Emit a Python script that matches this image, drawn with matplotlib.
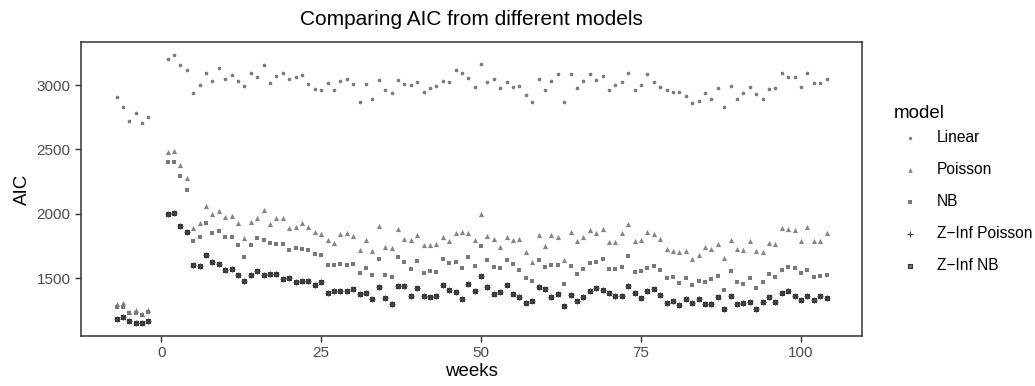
import numpy as np
import matplotlib
matplotlib.use("Agg")
import matplotlib.pyplot as plt

plt.rcParams['font.family'] = ['Liberation Sans', 'DejaVu Sans']

# weeks: an early block before week 0, then weeks 1..104
weeks = list(range(-7, -1)) + list(range(1, 105))

aic_linear = [2909, 2827, 2718, 2785, 2707, 2749,
    3204, 3231, 3158, 3117, 2940, 2998, 3096, 3033, 3130, 3049,
    3078, 3031, 2992, 3091, 3060, 3155, 3013, 3073, 3091, 3047,
    3065, 3080, 3008, 2972, 2959, 3018, 2963, 3033, 3044, 3008,
    2866, 3010, 2891, 3036, 2963, 2940, 3039, 3008, 3003, 3021,
    2946, 2979, 2992, 3033, 3021, 3119, 3093, 3057, 2982, 3163,
    3026, 3047, 2974, 3023, 2982, 2995, 2920, 2866, 3049, 2961,
    3031, 3088, 2866, 3088, 2977, 3033, 3085, 3039, 3073, 2963,
    3000, 3026, 3096, 2961, 2998, 3088, 3023, 2987, 2961, 2948,
    2948, 2917, 2858, 2873, 2938, 2891, 2974, 2832, 2995, 2889,
    2938, 2987, 2933, 2891, 2966, 2974, 3091, 3062, 3062, 2982,
    3093, 3016, 3016, 3047]

aic_poisson = [1298, 1304, 1239, 1252, 1221, 1252,
    2479, 2487, 2376, 2275, 1891, 1930, 2060, 2000, 2021, 1977,
    1982, 1925, 1814, 1933, 1967, 2026, 1918, 1969, 1969, 1891,
    1894, 1928, 1894, 1858, 1845, 1796, 1772, 1840, 1848, 1827,
    1718, 1796, 1710, 1907, 1744, 1736, 1879, 1803, 1798, 1835,
    1757, 1757, 1762, 1821, 1790, 1852, 1855, 1850, 1793, 1995,
    1824, 1803, 1744, 1821, 1796, 1801, 1700, 1627, 1835, 1752,
    1832, 1821, 1643, 1860, 1788, 1819, 1876, 1850, 1884, 1782,
    1782, 1848, 1923, 1790, 1798, 1858, 1840, 1803, 1726, 1710,
    1700, 1713, 1651, 1681, 1739, 1723, 1767, 1653, 1793, 1728,
    1715, 1788, 1713, 1702, 1770, 1767, 1889, 1879, 1873, 1790,
    1899, 1790, 1790, 1852]

aic_nb = [1273, 1278, 1231, 1226, 1213, 1239,
    2402, 2402, 2296, 2184, 1790, 1821, 1930, 1852, 1868, 1821,
    1821, 1757, 1666, 1757, 1814, 1798, 1772, 1767, 1767, 1720,
    1733, 1726, 1720, 1689, 1681, 1604, 1604, 1612, 1604, 1612,
    1542, 1580, 1526, 1651, 1526, 1511, 1666, 1627, 1573, 1635,
    1542, 1557, 1549, 1645, 1619, 1627, 1575, 1666, 1596, 1752,
    1643, 1588, 1580, 1643, 1612, 1565, 1498, 1480, 1643, 1588,
    1604, 1604, 1456, 1596, 1534, 1573, 1619, 1627, 1651, 1573,
    1573, 1588, 1674, 1549, 1557, 1580, 1594, 1565, 1503, 1511,
    1464, 1503, 1449, 1480, 1469, 1495, 1518, 1410, 1557, 1472,
    1456, 1503, 1425, 1472, 1534, 1511, 1565, 1588, 1580, 1542,
    1565, 1511, 1518, 1526]

aic_zinb = [1182, 1197, 1166, 1153, 1153, 1169,
    1998, 2005, 1907, 1860, 1599, 1591, 1677, 1627, 1612, 1560,
    1570, 1524, 1475, 1526, 1557, 1524, 1534, 1531, 1493, 1498,
    1467, 1480, 1480, 1444, 1469, 1381, 1397, 1397, 1397, 1415,
    1378, 1386, 1339, 1433, 1347, 1298, 1438, 1436, 1358, 1425,
    1358, 1355, 1363, 1444, 1405, 1392, 1339, 1451, 1397, 1516,
    1428, 1376, 1392, 1444, 1378, 1353, 1309, 1324, 1433, 1413,
    1355, 1374, 1283, 1366, 1322, 1355, 1399, 1425, 1405, 1386,
    1358, 1358, 1436, 1384, 1342, 1397, 1418, 1371, 1304, 1319,
    1291, 1339, 1304, 1334, 1301, 1301, 1350, 1262, 1363, 1296,
    1304, 1314, 1260, 1316, 1350, 1314, 1384, 1402, 1358, 1332,
    1358, 1332, 1358, 1342]

# zero-inflated Poisson sits on top of zero-inflated NB
aic_zip = list(aic_zinb)

models = ["Linear", "Poisson", "NB", "Z\u2212Inf Poisson", "Z\u2212Inf NB"]
series = [aic_linear, aic_poisson, aic_nb, aic_zip, aic_zinb]
markers = ["o", "^", "s", "+", "X"]
colors = ["#7a7a7a", "#858585", "#787878", "#444444", "#333333"]
sizes = [7, 14, 10, 20, 12]

fig = plt.figure(figsize=(10.35, 3.86), dpi=100)
ax = fig.add_axes([81/1035, 50/386, 781/1035, 294/386])

for name, vals, m, c, s in zip(models, series, markers, colors, sizes):
    if m == "X":
        # square with a cross inside (ggplot shape 7)
        ax.scatter(weeks, vals, marker="s", s=s, facecolors="#777777",
                   edgecolors=c, linewidths=0.8, label=name, zorder=2)
        ax.scatter(weeks, vals, marker="x", s=s*0.7, color=c,
                   linewidths=0.8, zorder=3)
    elif m == "+":
        ax.scatter(weeks, vals, marker=m, s=s, color=c, linewidths=0.8,
                   label=name, zorder=4)
    else:
        ax.scatter(weeks, vals, marker=m, s=s, color=c, linewidths=0, label=name)

allv = np.concatenate([np.array(v) for v in series])
lo, hi = allv.min(), allv.max()
pad = (hi - lo) * 0.05
ax.set_ylim(lo - pad, hi + pad)
xlo, xhi = min(weeks), max(weeks)
xpad = (xhi - xlo) * 0.05
ax.set_xlim(xlo - xpad, xhi + xpad)

ax.set_xticks([0, 25, 50, 75, 100])
ax.set_yticks([1500, 2000, 2500, 3000])
ax.tick_params(direction="out", length=4, width=1, color="#333333",
               labelcolor="#4d4d4d", labelsize=11)
for sp in ax.spines.values():
    sp.set_color("#333333")
    sp.set_linewidth(1.1)

ax.set_xlabel("weeks", fontsize=13.5, labelpad=2)
ax.set_ylabel("AIC", fontsize=13.5, labelpad=4)
ax.set_title("Comparing AIC from different models", fontsize=15, pad=12)

leg = ax.legend(title="model", loc="center left", bbox_to_anchor=(1.027, 0.5),
                frameon=False, fontsize=11.2, title_fontsize=13.5,
                labelspacing=1.1, handletextpad=0.75, markerscale=0.9,
                borderaxespad=0.3)
leg._legend_box.align = "left"
leg._legend_box.sep = 6

fig.savefig("out.png", dpi=100)
